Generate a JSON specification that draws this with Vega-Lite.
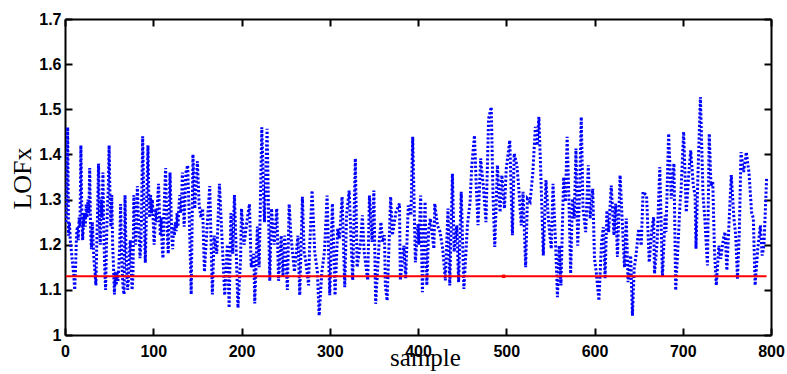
{
  "$schema": "https://vega.github.io/schema/vega-lite/v6.json",
  "width": 706,
  "height": 316,
  "autosize": {"type": "none"},
  "padding": {"left": 65, "top": 19, "right": 16, "bottom": 39},
  "background": "white",
  "config": {"view": {"stroke": null}},
  "datasets": {
    "thr": [{"s": 1, "v": 1.13}, {"s": 795, "v": 1.13}],
    "lof": [
      {"s":1,"v":1.25},{"s":2,"v":1.30},{"s":3,"v":1.46},{"s":4,"v":1.22},{"s":5,"v":1.25},{"s":6,"v":1.21},{"s":8,"v":1.17},{"s":10,"v":1.13},{"s":11,"v":1.10},{"s":12,"v":1.15},{"s":13,"v":1.22},{"s":14,"v":1.24},{"s":15,"v":1.21},{"s":16,"v":1.26},{"s":17,"v":1.24},{"s":18,"v":1.42},{"s":19,"v":1.28},{"s":20,"v":1.21},{"s":21,"v":1.25},{"s":22,"v":1.27},{"s":23,"v":1.24},{"s":24,"v":1.29},{"s":25,"v":1.26},{"s":26,"v":1.30},{"s":27,"v":1.27},{"s":28,"v":1.37},{"s":29,"v":1.23},{"s":30,"v":1.19},{"s":31,"v":1.25},{"s":32,"v":1.20},{"s":33,"v":1.16},{"s":34,"v":1.14},{"s":35,"v":1.11},{"s":36,"v":1.20},{"s":37,"v":1.28},{"s":38,"v":1.38},{"s":39,"v":1.25},{"s":40,"v":1.20},{"s":41,"v":1.30},{"s":42,"v":1.26},{"s":43,"v":1.36},{"s":44,"v":1.22},{"s":45,"v":1.15},{"s":46,"v":1.10},{"s":47,"v":1.20},{"s":48,"v":1.28},{"s":49,"v":1.32},{"s":50,"v":1.42},{"s":51,"v":1.30},{"s":52,"v":1.24},{"s":53,"v":1.31},{"s":54,"v":1.20},{"s":55,"v":1.15},{"s":56,"v":1.09},{"s":57,"v":1.14},{"s":58,"v":1.11},{"s":59,"v":1.14},{"s":60,"v":1.12},{"s":61,"v":1.15},{"s":62,"v":1.20},{"s":63,"v":1.29},{"s":64,"v":1.20},{"s":65,"v":1.13},{"s":66,"v":1.10},{"s":67,"v":1.09},{"s":68,"v":1.31},{"s":69,"v":1.20},{"s":70,"v":1.14},{"s":71,"v":1.10},{"s":72,"v":1.13},{"s":73,"v":1.18},{"s":74,"v":1.21},{"s":75,"v":1.15},{"s":76,"v":1.10},{"s":77,"v":1.13},{"s":78,"v":1.31},{"s":79,"v":1.25},{"s":80,"v":1.20},{"s":81,"v":1.25},{"s":82,"v":1.33},{"s":83,"v":1.27},{"s":84,"v":1.22},{"s":85,"v":1.17},{"s":86,"v":1.20},{"s":87,"v":1.30},{"s":88,"v":1.44},{"s":89,"v":1.33},{"s":90,"v":1.24},{"s":91,"v":1.16},{"s":92,"v":1.25},{"s":93,"v":1.33},{"s":94,"v":1.42},{"s":95,"v":1.30},{"s":96,"v":1.26},{"s":97,"v":1.31},{"s":98,"v":1.27},{"s":99,"v":1.30},{"s":100,"v":1.25},{"s":101,"v":1.20},{"s":102,"v":1.24},{"s":103,"v":1.28},{"s":104,"v":1.25},{"s":105,"v":1.30},{"s":106,"v":1.335},{"s":107,"v":1.27},{"s":108,"v":1.22},{"s":109,"v":1.26},{"s":110,"v":1.20},{"s":111,"v":1.17},{"s":112,"v":1.26},{"s":113,"v":1.32},{"s":114,"v":1.37},{"s":115,"v":1.28},{"s":116,"v":1.22},{"s":117,"v":1.18},{"s":118,"v":1.27},{"s":119,"v":1.36},{"s":120,"v":1.29},{"s":121,"v":1.22},{"s":122,"v":1.19},{"s":123,"v":1.24},{"s":124,"v":1.22},{"s":125,"v":1.25},{"s":126,"v":1.23},{"s":127,"v":1.27},{"s":128,"v":1.24},{"s":129,"v":1.28},{"s":130,"v":1.31},{"s":131,"v":1.27},{"s":132,"v":1.29},{"s":133,"v":1.36},
      {"s":135,"v":1.24},{"s":137,"v":1.36},{"s":139,"v":1.376},{"s":141,"v":1.25},{"s":143,"v":1.09},{"s":145,"v":1.40},{"s":147,"v":1.28},{"s":150,"v":1.385},{"s":152,"v":1.29},{"s":154,"v":1.26},{"s":156,"v":1.28},{"s":158,"v":1.14},{"s":161,"v":1.24},{"s":164,"v":1.33},{"s":167,"v":1.09},{"s":169,"v":1.22},{"s":172,"v":1.18},{"s":175,"v":1.335},{"s":178,"v":1.21},{"s":181,"v":1.088},{"s":184,"v":1.20},{"s":186,"v":1.06},{"s":188,"v":1.27},{"s":190,"v":1.18},{"s":192,"v":1.31},{"s":196,"v":1.06},{"s":199,"v":1.17},{"s":200,"v":1.28},{"s":203,"v":1.20},{"s":206,"v":1.25},{"s":209,"v":1.29},{"s":211,"v":1.15},{"s":214,"v":1.18},{"s":215,"v":1.07},{"s":218,"v":1.24},{"s":220,"v":1.15},{"s":223,"v":1.46},{"s":226,"v":1.25},{"s":229,"v":1.457},{"s":232,"v":1.12},{"s":234,"v":1.28},{"s":237,"v":1.20},{"s":240,"v":1.28},{"s":242,"v":1.12},{"s":245,"v":1.22},{"s":247,"v":1.13},{"s":249,"v":1.22},{"s":252,"v":1.10},{"s":254,"v":1.29},{"s":256,"v":1.22},{"s":260,"v":1.14},{"s":264,"v":1.22},{"s":266,"v":1.088},
      {"s":268,"v":1.23},{"s":269,"v":1.306},{"s":271,"v":1.184},{"s":273,"v":1.161},{"s":276,"v":1.11},{"s":277,"v":1.184},{"s":280,"v":1.32},{"s":283,"v":1.184},{"s":286,"v":1.139},{"s":288,"v":1.043},{"s":291,"v":1.139},{"s":294,"v":1.184},{"s":297,"v":1.309},{"s":300,"v":1.088},{"s":303,"v":1.291},{"s":306,"v":1.088},{"s":309,"v":1.235},{"s":311,"v":1.213},{"s":314,"v":1.306},{"s":317,"v":1.106},{"s":319,"v":1.265},{"s":322,"v":1.32},{"s":326,"v":1.121},{"s":329,"v":1.391},{"s":331,"v":1.15},{"s":335,"v":1.206},{"s":337,"v":1.265},{"s":339,"v":1.184},{"s":343,"v":1.121},{"s":345,"v":1.309},{"s":348,"v":1.206},{"s":350,"v":1.32},{"s":352,"v":1.069},{"s":356,"v":1.206},{"s":358,"v":1.25},{"s":360,"v":1.206},{"s":362,"v":1.221},{"s":363,"v":1.11},{"s":365,"v":1.076},{"s":369,"v":1.306},{"s":371,"v":1.221},{"s":375,"v":1.272},{"s":379,"v":1.291},{"s":380,"v":1.121},{"s":384,"v":1.198},{"s":386,"v":1.125},{"s":389,"v":1.287},{"s":392,"v":1.265},{"s":394,"v":1.439},{"s":397,"v":1.161},{"s":400,"v":1.246},
      {"s":401,"v":1.20},{"s":403,"v":1.309},{"s":405,"v":1.095},{"s":408,"v":1.295},{"s":410,"v":1.11},{"s":412,"v":1.23},{"s":414,"v":1.258},{"s":418,"v":1.191},{"s":419,"v":1.291},{"s":422,"v":1.243},{"s":425,"v":1.228},{"s":428,"v":1.191},{"s":431,"v":1.121},{"s":434,"v":1.28},{"s":436,"v":1.11},{"s":439,"v":1.357},{"s":441,"v":1.184},{"s":444,"v":1.243},{"s":446,"v":1.117},{"s":449,"v":1.317},{"s":452,"v":1.102},{"s":456,"v":1.243},{"s":459,"v":1.295},{"s":461,"v":1.376},{"s":464,"v":1.442},{"s":466,"v":1.331},{"s":468,"v":1.243},{"s":471,"v":1.391},{"s":474,"v":1.331},{"s":477,"v":1.25},{"s":480,"v":1.479},{"s":483,"v":1.505},{"s":485,"v":1.309},{"s":487,"v":1.195},{"s":490,"v":1.376},{"s":493,"v":1.272},{"s":495,"v":1.354},{"s":498,"v":1.28},{"s":500,"v":1.368},{"s":504,"v":1.431},{"s":507,"v":1.221},{"s":509,"v":1.402},{"s":512,"v":1.376},{"s":514,"v":1.331},{"s":517,"v":1.243},{"s":519,"v":1.317},{"s":522,"v":1.15},{"s":524,"v":1.302},{"s":527,"v":1.295},{"s":530,"v":1.357},{"s":533,"v":1.461},
      {"s":535,"v":1.42},{"s":537,"v":1.483},{"s":539,"v":1.368},{"s":542,"v":1.176},{"s":545,"v":1.343},{"s":548,"v":1.25},{"s":551,"v":1.191},{"s":553,"v":1.335},{"s":556,"v":1.198},{"s":558,"v":1.084},{"s":560,"v":1.198},{"s":562,"v":1.11},{"s":565,"v":1.35},{"s":567,"v":1.295},{"s":569,"v":1.439},{"s":571,"v":1.302},{"s":573,"v":1.136},{"s":575,"v":1.302},{"s":577,"v":1.258},{"s":579,"v":1.413},{"s":581,"v":1.198},{"s":583,"v":1.309},{"s":585,"v":1.483},{"s":587,"v":1.28},{"s":590,"v":1.228},{"s":593,"v":1.376},{"s":595,"v":1.258},{"s":598,"v":1.324},{"s":600,"v":1.169},{"s":602,"v":1.139},{"s":605,"v":1.076},{"s":608,"v":1.206},{"s":610,"v":1.239},{"s":612,"v":1.125},{"s":614,"v":1.276},{"s":616,"v":1.228},{"s":619,"v":1.331},{"s":622,"v":1.221},{"s":624,"v":1.291},{"s":626,"v":1.173},{"s":629,"v":1.354},{"s":632,"v":1.228},{"s":634,"v":1.15},{"s":636,"v":1.258},{"s":638,"v":1.117},{"s":641,"v":1.176},{"s":643,"v":1.043},{"s":645,"v":1.147},{"s":647,"v":1.176},{"s":650,"v":1.235},{"s":653,"v":1.198},{"s":655,"v":1.317},{"s":659,"v":1.309},{"s":662,"v":1.161},{"s":665,"v":1.235},{"s":667,"v":1.261},{"s":668,"v":1.136},
      {"s":671,"v":1.206},{"s":674,"v":1.372},{"s":677,"v":1.128},{"s":680,"v":1.265},{"s":681,"v":1.228},{"s":684,"v":1.446},{"s":687,"v":1.302},{"s":690,"v":1.38},{"s":692,"v":1.099},{"s":695,"v":1.213},{"s":697,"v":1.295},{"s":698,"v":1.317},{"s":701,"v":1.45},{"s":704,"v":1.272},{"s":707,"v":1.361},{"s":709,"v":1.409},{"s":712,"v":1.331},{"s":714,"v":1.309},{"s":715,"v":1.191},{"s":717,"v":1.339},{"s":720,"v":1.527},{"s":723,"v":1.309},{"s":725,"v":1.258},{"s":728,"v":1.154},{"s":730,"v":1.446},{"s":732,"v":1.331},{"s":734,"v":1.339},{"s":736,"v":1.184},{"s":738,"v":1.11},{"s":741,"v":1.198},{"s":743,"v":1.169},{"s":746,"v":1.213},{"s":748,"v":1.228},{"s":750,"v":1.143},{"s":753,"v":1.272},{"s":755,"v":1.354},{"s":758,"v":1.258},{"s":760,"v":1.221},{"s":762,"v":1.125},{"s":764,"v":1.221},{"s":766,"v":1.405},{"s":769,"v":1.361},{"s":772,"v":1.405},{"s":775,"v":1.361},{"s":778,"v":1.272},{"s":780,"v":1.258},{"s":782,"v":1.11},{"s":785,"v":1.191},{"s":788,"v":1.243},{"s":790,"v":1.176},{"s":792,"v":1.198},{"s":795,"v":1.346}
    ],
    "mk": [{"s": 497, "v": 1.13}]
  },
  "layer": [
    {
      "data": {"name": "lof"},
      "mark": {"type": "line", "color": "#0000ff", "strokeWidth": 3, "strokeDash": [2.2, 2], "strokeCap": "butt", "clip": true},
      "encoding": {
        "x": {"field": "s", "type": "quantitative", "scale": {"domain": [0, 800], "nice": false, "zero": false},
          "axis": {"orient": "bottom", "values": [0,100,200,300,400,500,600,700,800], "grid": false, "tickSize": -7, "tickWidth": 2, "tickColor": "#000", "domainColor": "#000", "domainWidth": 2, "labelPadding": 15, "labelFlush": false, "labelFont": "Liberation Sans", "labelFontWeight": "bold", "labelFontSize": 16, "labelColor": "#000", "title": "sample", "titleFont": "Liberation Serif", "titleFontWeight": "normal", "titleFontSize": 25, "titleColor": "#000", "titleX": 360, "titleY": 30, "titleBaseline": "alphabetic", "titleAlign": "center"}},
        "y": {"field": "v", "type": "quantitative", "scale": {"domain": [1, 1.7], "nice": false, "zero": false},
          "axis": {"orient": "left", "values": [1,1.1,1.2,1.3,1.4,1.5,1.6,1.7], "format": "~g", "grid": false, "tickSize": -7, "tickWidth": 2, "tickColor": "#000", "domainColor": "#000", "domainWidth": 2, "labelPadding": 11, "labelFlush": false, "labelFont": "Liberation Sans", "labelFontWeight": "bold", "labelFontSize": 16, "labelColor": "#000", "title": "LOFx", "titleFont": "Liberation Serif", "titleFontWeight": "normal", "titleFontSize": 26, "titleColor": "#000", "titleX": -35, "titleY": 159, "titleAngle": -90, "titleBaseline": "alphabetic", "titleAlign": "center"}}
      }
    },
    {
      "data": {"name": "thr"},
      "mark": {"type": "line", "color": "#ff0000", "strokeWidth": 2},
      "encoding": {
        "x": {"field": "s", "type": "quantitative", "scale": {"domain": [0, 800], "nice": false, "zero": false},
          "axis": {"orient": "top", "values": [0,100,200,300,400,500,600,700,800], "grid": false, "labels": false, "title": null, "tickSize": -7, "tickWidth": 2, "tickColor": "#000", "domainColor": "#000", "domainWidth": 2}},
        "y": {"field": "v", "type": "quantitative", "scale": {"domain": [1, 1.7], "nice": false, "zero": false},
          "axis": {"orient": "right", "values": [1,1.1,1.2,1.3,1.4,1.5,1.6,1.7], "grid": false, "labels": false, "title": null, "tickSize": -7, "tickWidth": 2, "tickColor": "#000", "domainColor": "#000", "domainWidth": 2}}
      }
    },
    {
      "data": {"name": "mk"},
      "mark": {"type": "point", "shape": "square", "filled": true, "color": "#ff0000", "size": 12, "opacity": 1},
      "encoding": {
        "x": {"field": "s", "type": "quantitative", "axis": null},
        "y": {"field": "v", "type": "quantitative", "axis": null}
      }
    }
  ],
  "resolve": {"axis": {"x": "independent", "y": "independent"}}
}
